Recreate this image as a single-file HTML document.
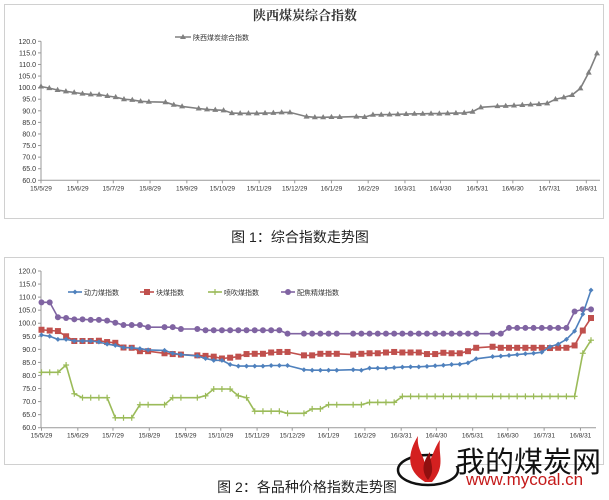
<!DOCTYPE html>
<html><head><meta charset="utf-8">
<style>
body{margin:0;background:#fff;width:609px;height:500px;overflow:hidden;font-family:"Liberation Sans","Noto Sans CJK SC",sans-serif;}
svg{position:absolute;left:0;top:0}
</style></head>
<body>
<svg id="s" width="609" height="500" viewBox="0 0 609 500">
<rect x="4.5" y="4.5" width="599" height="214" fill="#fff" stroke="#d0d0d0"/>
<text x="305" y="20" font-size="13" font-weight="bold" text-anchor="middle" fill="#333" font-family="Liberation Serif,Noto Serif CJK SC,serif">陕西煤炭综合指数</text>
<g>
<line x1="175" y1="37" x2="191" y2="37" stroke="#808080" stroke-width="1.5"/>
<path d="M183,34 L186,39 L180,39 Z" fill="#808080"/>
<text x="193" y="40" font-size="7" fill="#333">陕西煤炭综合指数</text>
</g>
<rect x="4.5" y="257.5" width="599" height="207" fill="#fff" stroke="#d0d0d0"/>
<g id="leg2"></g>
<g id="c1"></g><g id="c2"></g>
<text x="300" y="242" font-size="14" text-anchor="middle" fill="#222">图 1：综合指数走势图</text>
<g>
<ellipse cx="428" cy="470" rx="30" ry="15" fill="none" stroke="#111" stroke-width="2.5"/>
<rect x="440" y="452" width="22" height="14" fill="#fff"/>
<path d="M425,482 C405,470 408,452 418,436 C416,452 428,458 424,470 C432,460 434,448 440,440 C438,456 446,466 432,482 Z" fill="#d42020"/>
<path d="M428,480 C420,470 424,460 430,452 C430,464 436,470 428,480 Z" fill="#901010"/>
</g>
<text x="456" y="472" font-size="29" fill="#111">我的煤炭网</text>
<text x="466" y="485" font-size="17" fill="#c41a1a">www.mycoal.cn</text>
<text x="307" y="492" font-size="14" text-anchor="middle" fill="#222">图 2：各品种价格指数走势图</text>
</svg>
<script>
const weeks=[0,1,2,3,4,5,6,7,8,9,10,11,12,13,15,16,17,19,20,21,22,23,24,25,26,27,28,29,30,32,33,34,35,36,38,39,40,41,42,43,44,45,46,47,48,49,50,51,52,53,55,56,57,58,59,60,61,62,63,64,65,66,67];
const composite=[100.5,99.8,99.0,98.4,97.9,97.4,97.1,97.0,96.4,95.9,95.0,94.7,94.1,93.9,93.7,92.6,91.9,91.0,90.6,90.4,90.2,89.0,88.9,88.9,88.9,89.0,89.1,89.3,89.3,87.5,87.2,87.2,87.3,87.3,87.5,87.3,88.3,88.3,88.4,88.5,88.6,88.7,88.7,88.8,88.8,88.9,89.0,89.1,89.6,91.5,92.0,92.1,92.3,92.5,92.7,92.9,93.2,95.0,95.8,96.8,99.7,106.5,114.8];
const thermal=[95.5,95,93.8,93.8,93.2,93.2,93.2,92.8,92,91.5,90.7,90.6,90.3,89.8,89.6,88.5,88,87.5,86.5,85.8,85.8,84.2,83.6,83.6,83.6,83.6,83.8,83.8,83.8,82.2,82,82,82,82,82.2,82,82.8,82.8,82.8,83,83.2,83.3,83.3,83.5,83.7,83.9,84.2,84.3,84.8,86.4,87.2,87.4,87.7,88,88.3,88.5,88.9,91,92,93.8,97,103.5,112.7];
const lump=[97.5,97.2,97,95,93.2,93.2,93.2,93.3,92.8,92.5,90.7,90.6,89.3,89.3,88.5,88.2,88,87.7,87.5,87.2,86.5,86.8,87.2,88.2,88.3,88.3,88.8,89,89,87.7,87.7,88.3,88.3,88.3,88,88.3,88.5,88.5,88.8,89,88.8,88.8,88.8,88.2,88.2,88.7,88.5,88.5,89.3,90.6,91,90.6,90.6,90.6,90.6,90.6,90.6,90.5,90.6,90.6,91.5,97.2,102];
const pci=[81.2,81.2,81.2,84,73,71.5,71.5,71.5,71.5,63.8,63.8,63.8,68.8,68.8,68.8,71.5,71.5,71.5,72.2,74.8,74.8,74.8,72.2,71.5,66.3,66.3,66.3,66.3,65.5,65.5,67.2,67.2,68.8,68.8,68.8,68.8,69.7,69.7,69.7,69.7,72,72,72,72,72,72,72,72,72,72,72,72,72,72,72,72,72,72,72,72,72,88.5,93.5];
const coking=[108,108,102.3,102,101.5,101.5,101.3,101.3,101,100.2,99.3,99.3,99.3,98.5,98.5,98.5,97.8,97.8,97.3,97.3,97.3,97.3,97.3,97.3,97.3,97.3,97.3,97.3,96,96,96,96,96,96,96,96,96,96,96,96,96,96,96,96,96,96,96,96,96,96,96,96,98.2,98.2,98.2,98.2,98.2,98.2,98.2,98.2,104.5,105.3,105.3];
const tickLabels=["15/5/29","15/6/29","15/7/29","15/8/29","15/9/29","15/10/29","15/11/29","15/12/29","16/1/29","16/2/29","16/3/31","16/4/30","16/5/31","16/6/30","16/7/31","16/8/31"];
const tickDays=[0,31,61,92,123,153,184,214,245,276,307,337,368,398,429,460];
const yTicks=[60,65,70,75,80,85,90,95,100,105,110,115,120];

const NS="http://www.w3.org/2000/svg";
function mk(tag,attrs,parent){const e=document.createElementNS(NS,tag);for(const k in attrs)e.setAttribute(k,attrs[k]);parent.appendChild(e);return e;}

function drawAxes(g,xs,ys,x0,x1,prefix){
  mk('line',{x1:x0,y1:ys(120),x2:x0,y2:ys(60),stroke:'#999','stroke-width':1},g);
  mk('line',{x1:x0,y1:ys(60),x2:x1,y2:ys(60),stroke:'#999','stroke-width':1},g);
  yTicks.forEach(v=>{
    const t=mk('text',{x:x0-5,y:ys(v)+2.5,'font-size':7,'text-anchor':'end',fill:'#333'},g);
    t.textContent=v.toFixed(1);
    
    
    mk('line',{x1:x0-3,y1:ys(v),x2:x0,y2:ys(v),stroke:'#999'},g);
  });
  tickLabels.forEach((l,i)=>{
    const x=xs(tickDays[i]/7);
    const t=mk('text',{x:x,y:ys(60)+10,'font-size':6.5,'text-anchor':'middle',fill:'#333'},g);
    t.textContent=l;
    
    
    mk('line',{x1:x,y1:ys(60),x2:x,y2:ys(60)+3,stroke:'#999'},g);
  });
}
function marker(g,type,x,y,c){
  if(type==='tri')mk('path',{d:`M${x},${y-3.2} L${x+3},${y+2} L${x-3},${y+2} Z`,fill:c},g);
  else if(type==='dia')mk('path',{d:`M${x},${y-2.5} L${x+2.5},${y} L${x},${y+2.5} L${x-2.5},${y} Z`,fill:c},g);
  else if(type==='sq')mk('rect',{x:x-3,y:y-3,width:6,height:6,fill:c},g);
  else if(type==='plus'){mk('line',{x1:x-3,y1:y,x2:x+3,y2:y,stroke:c,'stroke-width':1.2},g);mk('line',{x1:x,y1:y-3,x2:x,y2:y+3,stroke:c,'stroke-width':1.2},g);}
  else if(type==='dot')mk('circle',{cx:x,cy:y,r:3,fill:c},g);
}
function series(g,vals,xs,ys,c,type,name){
  const sg=mk('g',{},g);
  
  
  const d=vals.map((v,i)=>(i?'L':'M')+xs(weeks[i]).toFixed(1)+','+ys(v).toFixed(1)).join(' ');
  mk('path',{d:d,fill:'none',stroke:c,'stroke-width':1.6},sg);
  vals.forEach((v,i)=>marker(sg,type,xs(weeks[i]),ys(v),c));
}
const c1=document.getElementById('c1');


const xs1=w=>41+w*(597-41)/67, ys1=v=>180.3-(v-60)*(180.3-41.3)/60;
drawAxes(c1,xs1,ys1,41,600,'chart1');
series(c1,composite,xs1,ys1,'#808080','tri','composite-index-line');
const c2=document.getElementById('c2');


const xs2=w=>41.5+w*(591-41.5)/67, ys2=v=>427.7-(v-60)*(427.7-271)/60;
drawAxes(c2,xs2,ys2,41,596,'chart2');
series(c2,coking,xs2,ys2,'#8064a2','dot','coking-coal-line');
series(c2,lump,xs2,ys2,'#c0504d','sq','lump-coal-line');
series(c2,thermal,xs2,ys2,'#4f81bd','dia','thermal-coal-line');
series(c2,pci,xs2,ys2,'#9bbb59','plus','pci-coal-line');
const leg=document.getElementById('leg2');
[[68,'#4f81bd','dia','动力煤指数'],[140,'#c0504d','sq','块煤指数'],[208,'#9bbb59','plus','喷吹煤指数'],[281,'#8064a2','dot','配焦精煤指数']].forEach(it=>{
  const g=mk('g',{},leg);
  
  
  mk('line',{x1:it[0],y1:292,x2:it[0]+14,y2:292,stroke:it[1],'stroke-width':1.6},g);
  marker(g,it[2],it[0]+7,292,it[1]);
  const t=mk('text',{x:it[0]+16,y:295,'font-size':7,fill:'#333'},g);
  t.textContent=it[3];
});
</script>
</body></html>
